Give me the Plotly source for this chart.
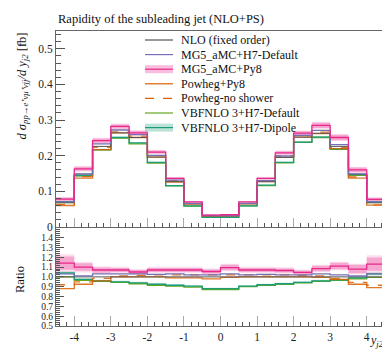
import plotly.graph_objects as go

# ---------------- data ----------------
bin_edges = [-4.5, -4.0, -3.5, -3.0, -2.5, -2.0, -1.5, -1.0, -0.5, 0.0,
             0.5, 1.0, 1.5, 2.0, 2.5, 3.0, 3.5, 4.0, 4.5]

nlo = [0.068, 0.148, 0.226, 0.264, 0.251, 0.196, 0.127, 0.065, 0.031,
       0.031, 0.065, 0.127, 0.195, 0.252, 0.263, 0.226, 0.148, 0.068]
mg5_h7 = [0.070, 0.149, 0.233, 0.272, 0.259, 0.201, 0.131, 0.066, 0.032,
          0.032, 0.066, 0.130, 0.199, 0.257, 0.271, 0.231, 0.149, 0.070]
mg5_py8 = [0.078, 0.163, 0.242, 0.282, 0.264, 0.210, 0.136, 0.070, 0.033,
           0.034, 0.070, 0.136, 0.208, 0.263, 0.285, 0.251, 0.160, 0.077]
powheg_py8 = [0.060, 0.137, 0.217, 0.264, 0.251, 0.196, 0.126, 0.064, 0.030,
              0.031, 0.065, 0.127, 0.195, 0.252, 0.262, 0.220, 0.137, 0.061]
powheg_noshower = [0.063, 0.141, 0.223, 0.267, 0.255, 0.200, 0.130, 0.066, 0.032,
                   0.032, 0.066, 0.130, 0.199, 0.256, 0.266, 0.223, 0.140, 0.062]
vbf_default = [0.068, 0.143, 0.216, 0.249, 0.233, 0.179, 0.115, 0.058, 0.027,
               0.027, 0.059, 0.116, 0.180, 0.237, 0.251, 0.218, 0.145, 0.068]
vbf_dipole = [0.071, 0.144, 0.217, 0.251, 0.236, 0.181, 0.116, 0.059, 0.027,
              0.027, 0.059, 0.117, 0.181, 0.238, 0.252, 0.219, 0.147, 0.070]

# ratios to NLO
r_nlo = [1.0] * 18
r_mg5_h7 = [1.03, 1.01, 1.03, 1.03, 1.03, 1.025, 1.03, 1.02, 1.02,
            1.03, 1.02, 1.025, 1.02, 1.02, 1.03, 1.02, 1.01, 1.03]
r_mg5_py8 = [1.14, 1.10, 1.07, 1.07, 1.05, 1.07, 1.07, 1.07, 1.055,
             1.095, 1.07, 1.07, 1.065, 1.045, 1.085, 1.11, 1.08, 1.13]
r_powheg_py8 = [0.88, 0.925, 0.96, 1.0, 1.0, 1.0, 0.99, 0.99, 0.98,
                0.995, 1.0, 1.0, 1.0, 1.0, 0.995, 0.975, 0.925, 0.89]
r_powheg_noshower = [0.92, 0.95, 0.985, 1.01, 1.015, 1.02, 1.02, 1.02, 1.02,
                     1.02, 1.02, 1.02, 1.02, 1.015, 1.01, 0.985, 0.945, 0.915]
r_vbf_default = [1.0, 0.965, 0.955, 0.945, 0.93, 0.915, 0.905, 0.895, 0.87,
                 0.87, 0.9, 0.915, 0.925, 0.94, 0.955, 0.965, 0.98, 0.995]
r_vbf_dipole = [1.04, 0.975, 0.96, 0.95, 0.94, 0.925, 0.915, 0.905, 0.88,
                0.88, 0.905, 0.92, 0.93, 0.945, 0.96, 0.97, 0.99, 1.03]

# relative uncertainty bands
unc_mg5_py8_inner = [0.06, 0.035, 0.025, 0.02, 0.02, 0.02, 0.02, 0.02, 0.02,
                     0.025, 0.02, 0.02, 0.02, 0.02, 0.025, 0.03, 0.04, 0.06]
unc_mg5_py8_outer = [0.08, 0.05, 0.035, 0.03, 0.03, 0.03, 0.03, 0.03, 0.03,
                     0.035, 0.03, 0.03, 0.03, 0.03, 0.035, 0.04, 0.05, 0.08]
unc_vbf_dipole = [0.015, 0.012, 0.01, 0.01, 0.01, 0.01, 0.01, 0.01, 0.01,
                  0.01, 0.01, 0.01, 0.01, 0.01, 0.01, 0.01, 0.012, 0.015]

labels = ["NLO (fixed order)", "MG5_aMC+H7-Default", "MG5_aMC+Py8",
          "Powheg+Py8", "Powheg-no shower", "VBFNLO 3+H7-Default",
          "VBFNLO 3+H7-Dipole"]

y_main_ticks = [0, 0.1, 0.2, 0.3, 0.4, 0.5]
y_main_ticktext = ["0", "0.1", "0.2", "0.3", "0.4", "0.5"]
y_ratio_ticks = [0.5, 0.6, 0.7, 0.8, 0.9, 1.0, 1.1, 1.2, 1.3, 1.4]
y_ratio_ticktext = ["0.5", "0.6", "0.7", "0.8", "0.9", "1.0", "1.1", "1.2", "1.3", "1.4"]
x_ticks = [-4, -3, -2, -1, 0, 1, 2, 3, 4]
x_ticktext = ["-4", "-3", "-2", "-1", "0", "1", "2", "3", "4"]

# ---------------- style ----------------
C_NLO = "#555555"
C_MG5H7 = "#7570b3"
C_MG5PY8 = "#e7298a"
C_POW = "#d95f02"
C_VBFD = "#66a61e"
C_VBFP = "#1b9e77"
FONT = "Liberation Serif"

W, H = 390, 352
ML, MR, MT, MB = 48, 13, 23, 34
PW, PH = W - ML - MR, H - MT - MB


def step(v):
    return list(v) + [v[-1]]


def px_x(px):
    return (px - ML) / PW


def px_y(py):
    return (H - MB - py) / PH


fig = go.Figure()


def add_line(vals, color, xa, ya, dash="solid", width=1.3, opacity=1.0):
    fig.add_trace(go.Scatter(x=bin_edges, y=step(vals), mode="lines",
                             line=dict(color=color, width=width, shape="hv", dash=dash),
                             opacity=opacity, xaxis=xa, yaxis=ya,
                             showlegend=False, hoverinfo="skip"))


def add_band(vals, rel, fillcolor, xa, ya):
    lo = [v * (1 - e) for v, e in zip(vals, rel)]
    hi = [v * (1 + e) for v, e in zip(vals, rel)]
    fig.add_trace(go.Scatter(x=bin_edges, y=step(lo), mode="lines",
                             line=dict(width=0, shape="hv"), xaxis=xa, yaxis=ya,
                             showlegend=False, hoverinfo="skip"))
    fig.add_trace(go.Scatter(x=bin_edges, y=step(hi), mode="lines",
                             line=dict(width=0, shape="hv"), fill="tonexty",
                             fillcolor=fillcolor, xaxis=xa, yaxis=ya,
                             showlegend=False, hoverinfo="skip"))


panels = [
    ("x", "y", [nlo, mg5_h7, mg5_py8, powheg_py8, powheg_noshower, vbf_default, vbf_dipole]),
    ("x2", "y2", [r_nlo, r_mg5_h7, r_mg5_py8, r_powheg_py8, r_powheg_noshower,
                  r_vbf_default, r_vbf_dipole]),
]

for xa, ya, s in panels:
    add_band(s[6], unc_vbf_dipole, "rgba(27,158,119,0.25)", xa, ya)
    add_band(s[2], unc_mg5_py8_outer, "rgba(231,41,138,0.15)", xa, ya)
    add_band(s[2], unc_mg5_py8_inner, "rgba(231,41,138,0.30)", xa, ya)
    add_line(s[5], C_VBFD, xa, ya)
    add_line(s[6], C_VBFP, xa, ya)
    add_line(s[3], C_POW, xa, ya, opacity=0.85)
    add_line(s[4], C_POW, xa, ya, dash="dash", opacity=0.85)
    add_line(s[0], C_NLO, xa, ya, width=1.0)
    add_line(s[1], C_MG5H7, xa, ya)
    add_line(s[2], C_MG5PY8, xa, ya)

axis_common = dict(showline=True, linecolor="#666666", linewidth=1, mirror=True,
                   showgrid=False, zeroline=False, ticks="inside")

fig.update_layout(
    width=W, height=H,
    margin=dict(l=ML, r=MR, t=MT, b=MB),
    paper_bgcolor="white", plot_bgcolor="white",
    font=dict(family=FONT, size=12, color="#222222"),
    xaxis=dict(domain=[0, 1], range=[-4.5, 4.5], anchor="y", tickvals=x_ticks,
               showticklabels=False, ticklen=9, tickcolor="#aaaaaa", tickwidth=1.2,
               minor=dict(dtick=0.2, tick0=0, ticks="inside", ticklen=4,
                          tickcolor="#555555", showgrid=False),
               **axis_common),
    yaxis=dict(domain=[0.336, 1], range=[0, 0.55], anchor="x", tickvals=y_main_ticks,
               ticktext=y_main_ticktext, ticklen=9, tickcolor="#555555",
               tickfont=dict(family=FONT, size=11.5, color="#222222"),
               minor=dict(dtick=0.02, tick0=0, ticks="inside", ticklen=5,
                          tickcolor="#555555", showgrid=False),
               **axis_common),
    xaxis2=dict(domain=[0, 1], range=[-4.5, 4.5], anchor="y2", matches="x",
                tickvals=x_ticks, ticktext=x_ticktext, ticklen=10,
                tickcolor="#aaaaaa", tickwidth=1.2,
                tickfont=dict(family=FONT, size=11.5, color="#222222"),
                minor=dict(dtick=0.2, tick0=0, ticks="inside", ticklen=4,
                           tickcolor="#555555", showgrid=False),
                **axis_common),
    yaxis2=dict(domain=[0, 0.333], range=[0.5, 1.5], anchor="x2",
                tickvals=y_ratio_ticks, ticktext=y_ratio_ticktext, ticklen=8,
                tickcolor="#555555",
                tickfont=dict(family=FONT, size=9.5, color="#222222"),
                minor=dict(dtick=0.02, tick0=0.5, ticks="inside", ticklen=4,
                           tickcolor="#555555", showgrid=False),
                **axis_common),
)

annotations = [
    dict(text="Rapidity of the subleading jet (NLO+PS)", x=0, y=px_y(11),
         xref="paper", yref="paper", xanchor="left", yanchor="middle",
         showarrow=False, font=dict(family=FONT, size=12.5, color="#111111")),
    dict(text="<i>d σ</i><sub><i>pp→e⁺νμ⁺νjj</i></sub><i>/d y</i><sub><i>j2</i></sub> [fb]",
         x=px_x(14), y=1.0, xref="paper", yref="paper", xanchor="center",
         yanchor="top", textangle=-90, showarrow=False,
         font=dict(family=FONT, size=12.5, color="#111111")),
    dict(text="Ratio", x=px_x(12), y=px_y(272), xref="paper", yref="paper",
         xanchor="center", yanchor="middle", textangle=-90, showarrow=False,
         font=dict(family=FONT, size=12.5, color="#111111")),
    dict(text="<i>y</i><sub><i>j2</i></sub>", x=1.0, y=px_y(333), xref="paper",
         yref="paper", xanchor="right", yanchor="middle", showarrow=False,
         font=dict(family=FONT, size=12, color="#111111")),
]

# legend (drawn manually to match the compact row spacing)
leg_styles = [
    (C_NLO, "solid", None),
    (C_MG5H7, "solid", None),
    (C_MG5PY8, "solid", "rgba(231,41,138,0.30)"),
    (C_POW, "solid", None),
    (C_POW, "dash", None),
    (C_VBFD, "solid", None),
    (C_VBFP, "solid", "rgba(27,158,119,0.30)"),
]
shapes = []
for i, (lab, (col, dash, band)) in enumerate(zip(labels, leg_styles)):
    py = 32 + 14.6 * i
    if band:
        shapes.append(dict(type="line", xref="paper", yref="paper",
                           x0=px_x(137), x1=px_x(165), y0=px_y(py), y1=px_y(py),
                           line=dict(color=band, width=8)))
    shapes.append(dict(type="line", xref="paper", yref="paper",
                       x0=px_x(137), x1=px_x(165), y0=px_y(py), y1=px_y(py),
                       line=dict(color=col, width=1.2, dash=dash)))
    annotations.append(dict(text=lab, x=px_x(171), y=px_y(py), xref="paper",
                            yref="paper", xanchor="left", yanchor="middle",
                            showarrow=False,
                            font=dict(family=FONT, size=12, color="#111111")))

fig.update_layout(annotations=annotations, shapes=shapes)

fig.write_html("out.html")
